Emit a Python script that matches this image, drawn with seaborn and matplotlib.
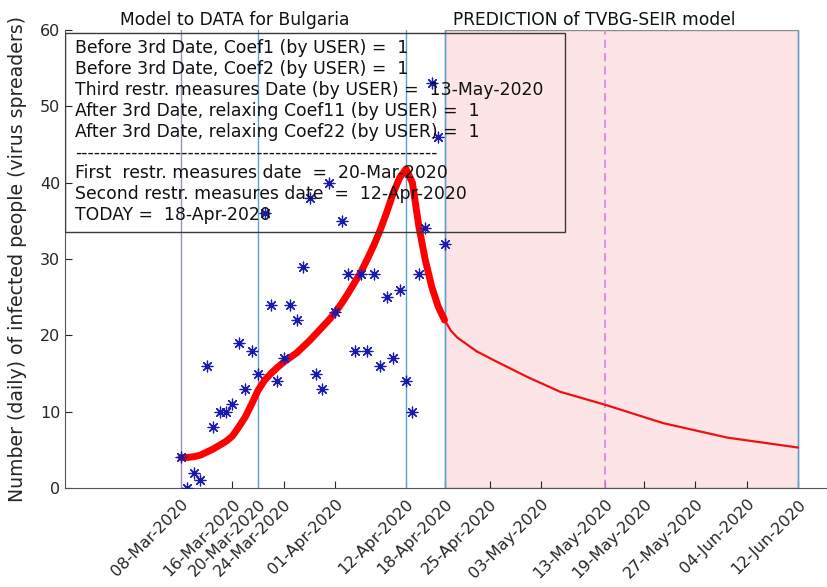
import pandas as pd
import numpy as np
import seaborn as sns
import matplotlib.pyplot as plt
import matplotlib.dates as mdates
from matplotlib.patches import Rectangle

# observed daily cases (08-Mar-2020 .. 18-Apr-2020)
obs_dates = pd.date_range('2020-03-08', '2020-04-18', freq='D')
obs_cases = [4, 0, 2, 1, 16, 8, 10, 10, 11, 19, 13, 18, 15, 36, 24, 14, 17, 24, 22, 29, 38,
             15, 13, 40, 23, 35, 28, 18, 28, 18, 28, 16, 25, 17, 26, 14, 10, 28, 34, 53, 46, 32]

# fitted model (thick red)
model_dates = obs_dates
model_vals = [4.0, 4.0, 4.1, 4.3, 4.7, 5.1, 5.6, 6.1, 6.8, 8.0, 9.3, 11.0, 12.8, 14.1, 15.0,
              15.8, 16.5, 17.1, 17.7, 18.5, 19.3, 20.2, 21.1, 22.0, 23.0, 24.2, 25.5, 26.9,
              28.3, 30.0, 31.8, 33.8, 36.1, 38.6, 40.6, 41.8, 40.0, 34.3, 29.9, 26.4, 23.8, 22.0]

# prediction (thin red)
pred_dates = pd.to_datetime(['2020-04-18', '2020-04-19', '2020-04-20', '2020-04-21', '2020-04-23',
                             '2020-04-26', '2020-05-01', '2020-05-06', '2020-05-13', '2020-05-22',
                             '2020-06-01', '2020-06-12'])
pred_vals = [22.0, 20.6, 19.7, 19.1, 17.9, 16.6, 14.5, 12.6, 10.9, 8.5, 6.6, 5.3]

tick_dates = pd.to_datetime(['2020-03-08', '2020-03-16', '2020-03-20', '2020-03-24', '2020-04-01',
                             '2020-04-12', '2020-04-18', '2020-04-25', '2020-05-03', '2020-05-13',
                             '2020-05-19', '2020-05-27', '2020-06-04', '2020-06-12'])

start_date = pd.Timestamp('2020-03-08')
first_date = pd.Timestamp('2020-03-20')
second_date = pd.Timestamp('2020-04-12')
today = pd.Timestamp('2020-04-18')
third_date = pd.Timestamp('2020-05-13')
end_date = pd.Timestamp('2020-06-12')

info_lines = [
    'Before 3rd Date, Coef1 (by USER) =  1',
    'Before 3rd Date, Coef2 (by USER) =  1',
    'Third restr. measures Date (by USER) =  13-May-2020',
    'After 3rd Date, relaxing Coef11 (by USER) =  1',
    'After 3rd Date, relaxing Coef22 (by USER) =  1',
    '-' * 58,
    'First  restr. measures date  =  20-Mar-2020',
    'Second restr. measures date  =  12-Apr-2020',
    'TODAY =  18-Apr-2020',
]

sns.set_style('white')
plt.rcParams['font.family'] = ['DejaVu Sans']
txt_col = '#262626'

fig = plt.figure(figsize=(8.27, 5.87), dpi=100)
ax = fig.add_axes([65 / 827, 1 - 488 / 587, 762 / 827, 458 / 587])

# prediction region
d_start = mdates.date2num(today)
d_end = mdates.date2num(end_date)
ax.add_patch(Rectangle((d_start, 0), d_end - d_start, 60, facecolor='#fde4e6',
                       edgecolor='#8a8a8a', linewidth=1.0, zorder=0))

# vertical markers
ax.axvline(start_date, color='#a08fb8', lw=1.0, zorder=1)
for d in [first_date, second_date, today, end_date]:
    ax.axvline(d, color='#5aa3d4', lw=1.0, zorder=1)
ax.plot([third_date, third_date], [0, 60], color='#e07ee8', lw=1.2, ls=(0, (5, 3)), zorder=1)

sns.lineplot(x=pred_dates, y=pred_vals, color='#ee1111', lw=1.6, ax=ax, zorder=3)
sns.lineplot(x=model_dates, y=model_vals, color='#ff0000', lw=5, ax=ax, zorder=4)
sns.scatterplot(x=obs_dates, y=obs_cases, marker=(8, 2, 0), s=60, color='#1a1ab0',
                edgecolor='#1a1ab0', linewidth=0.9, ax=ax, zorder=5)

# info box
ax.add_patch(Rectangle((0, 256 / 458), 500 / 762, 199 / 458, transform=ax.transAxes,
                       fill=False, edgecolor='#3a3a3a', linewidth=1.0, zorder=6))
for i, line in enumerate(info_lines):
    ypx = 48 + i * 20.9
    ax.text(10 / 762, (488 - ypx) / 458, line, transform=ax.transAxes, fontsize=12.4,
            color='#111111', va='center', ha='left', zorder=7)

ax.set_xlim(start_date - pd.Timedelta(days=18.04), end_date + pd.Timedelta(days=4.5))
ax.set_ylim(0, 60)
ax.set_yticks(range(0, 61, 10))
ax.set_xticks(tick_dates)
ax.xaxis.set_major_formatter(mdates.DateFormatter('%d-%b-%Y'))
plt.setp(ax.get_xticklabels(), rotation=45, ha='right', rotation_mode='anchor')
ax.tick_params(direction='in', length=5, width=0.8, colors=txt_col, labelsize=11.5,
               bottom=True, left=True)
ax.tick_params(axis='x', pad=6)
ax.set_xlabel('')
ax.set_ylabel('Number (daily) of infected people (virus spreaders)', fontsize=13.6, color=txt_col)
ax.yaxis.set_label_coords(-38 / 762, 0.5)
for s in ['top', 'right']:
    ax.spines[s].set_visible(False)
for s in ['left', 'bottom']:
    ax.spines[s].set_color('#555555')
    ax.spines[s].set_linewidth(0.8)

fig.text(235 / 827, 1 - 20 / 587, 'Model to DATA for Bulgaria', fontsize=12.3,
         ha='center', va='center', color='#111111')
fig.text(594 / 827, 1 - 20 / 587, 'PREDICTION of TVBG-SEIR model', fontsize=12.3,
         ha='center', va='center', color='#111111')

fig.savefig('out.png', dpi=100)
